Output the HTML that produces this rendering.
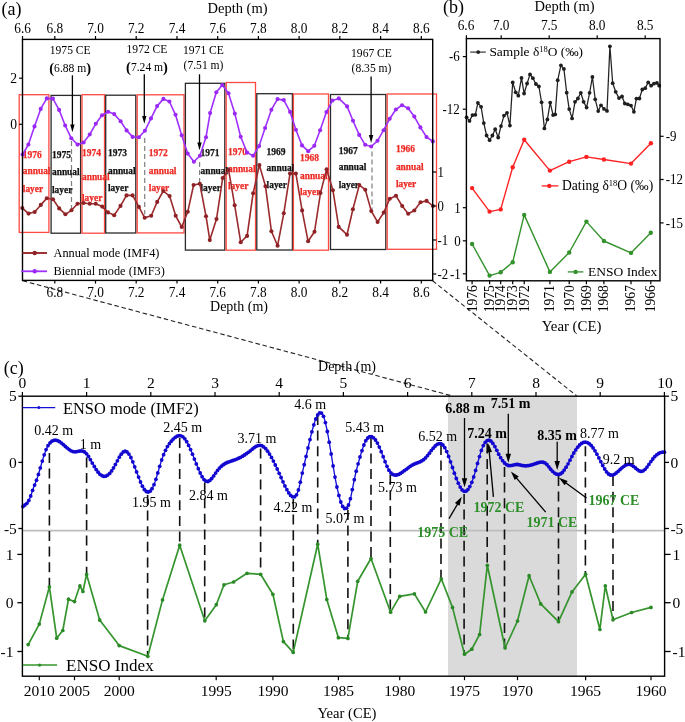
<!DOCTYPE html>
<html><head><meta charset="utf-8"><title>Figure</title>
<style>html,body{margin:0;padding:0;background:#fff}svg{display:block}</style></head>
<body>
<svg width="685" height="722" viewBox="0 0 685 722" font-family="Liberation Serif, Times New Roman, serif">
<rect width="685" height="722" fill="#fff"/>
<line x1="22.8" y1="280.8" x2="451.0" y2="395.6" stroke="#222" stroke-width="1.1" stroke-dasharray="4.5 2.8"/>
<line x1="432.6" y1="280.8" x2="576.6" y2="395.8" stroke="#222" stroke-width="1.1" stroke-dasharray="4.5 2.8"/>
<rect x="19.2" y="94.7" width="29.7" height="137.7" fill="none" stroke="#ff4a42" stroke-width="1.3"/>
<rect x="51.1" y="95.4" width="29.5" height="137.8" fill="none" stroke="#2a2a2a" stroke-width="1.3"/>
<rect x="82.0" y="94.7" width="22.5" height="138.5" fill="none" stroke="#ff4a42" stroke-width="1.3"/>
<rect x="105.7" y="95.2" width="30.1" height="137.8" fill="none" stroke="#2a2a2a" stroke-width="1.3"/>
<rect x="137.2" y="94.8" width="46.8" height="138.1" fill="none" stroke="#ff4a42" stroke-width="1.3"/>
<rect x="185.4" y="83.3" width="39.4" height="166.8" fill="none" stroke="#2a2a2a" stroke-width="1.3"/>
<rect x="226.2" y="82.5" width="29.3" height="167.7" fill="none" stroke="#ff4a42" stroke-width="1.3"/>
<rect x="256.8" y="93.7" width="35.6" height="156.3" fill="none" stroke="#2a2a2a" stroke-width="1.3"/>
<rect x="293.4" y="94.0" width="35.1" height="156.2" fill="none" stroke="#ff4a42" stroke-width="1.3"/>
<rect x="330.5" y="94.5" width="55.3" height="155.0" fill="none" stroke="#2a2a2a" stroke-width="1.3"/>
<rect x="387.2" y="94.0" width="49.3" height="155.3" fill="none" stroke="#ff4a42" stroke-width="1.3"/>
<line x1="71.5" y1="141.0" x2="71.5" y2="210.0" stroke="#808080" stroke-width="1.2" stroke-dasharray="5 3"/>
<line x1="144.7" y1="138.0" x2="144.7" y2="214.6" stroke="#808080" stroke-width="1.2" stroke-dasharray="5 3"/>
<line x1="199.6" y1="162.0" x2="199.6" y2="184.0" stroke="#808080" stroke-width="1.2" stroke-dasharray="5 3"/>
<line x1="372.0" y1="151.6" x2="372.0" y2="209.6" stroke="#808080" stroke-width="1.2" stroke-dasharray="5 3"/>
<text x="22.8" y="157.6" font-size="9.5" text-anchor="start" fill="#ee2a24" font-weight="bold" stroke="#ee2a24" stroke-width="0.25">1976</text>
<text x="22.8" y="174.4" font-size="9.4" text-anchor="start" fill="#ee2a24" font-weight="bold" stroke="#ee2a24" stroke-width="0.25">annual</text>
<text x="22.8" y="191.6" font-size="9.4" text-anchor="start" fill="#ee2a24" font-weight="bold" stroke="#ee2a24" stroke-width="0.25">layer</text>
<text x="52.0" y="157.6" font-size="9.5" text-anchor="start" fill="#111" font-weight="bold" stroke="#111" stroke-width="0.25">1975</text>
<text x="52.0" y="175.4" font-size="9.4" text-anchor="start" fill="#111" font-weight="bold" stroke="#111" stroke-width="0.25">annual</text>
<text x="52.0" y="192.6" font-size="9.4" text-anchor="start" fill="#111" font-weight="bold" stroke="#111" stroke-width="0.25">layer</text>
<text x="82.0" y="156.3" font-size="9.5" text-anchor="start" fill="#ee2a24" font-weight="bold" stroke="#ee2a24" stroke-width="0.25">1974</text>
<text x="82.0" y="179.8" font-size="9.4" text-anchor="start" fill="#ee2a24" font-weight="bold" stroke="#ee2a24" stroke-width="0.25">annual</text>
<text x="82.0" y="201.3" font-size="9.4" text-anchor="start" fill="#ee2a24" font-weight="bold" stroke="#ee2a24" stroke-width="0.25">layer</text>
<text x="108.0" y="156.3" font-size="9.5" text-anchor="start" fill="#111" font-weight="bold" stroke="#111" stroke-width="0.25">1973</text>
<text x="108.0" y="173.8" font-size="9.4" text-anchor="start" fill="#111" font-weight="bold" stroke="#111" stroke-width="0.25">annual</text>
<text x="108.0" y="191.1" font-size="9.4" text-anchor="start" fill="#111" font-weight="bold" stroke="#111" stroke-width="0.25">layer</text>
<text x="148.8" y="155.6" font-size="9.5" text-anchor="start" fill="#ee2a24" font-weight="bold" stroke="#ee2a24" stroke-width="0.25">1972</text>
<text x="148.8" y="173.8" font-size="9.4" text-anchor="start" fill="#ee2a24" font-weight="bold" stroke="#ee2a24" stroke-width="0.25">annual</text>
<text x="148.8" y="190.6" font-size="9.4" text-anchor="start" fill="#ee2a24" font-weight="bold" stroke="#ee2a24" stroke-width="0.25">layer</text>
<text x="200.5" y="156.1" font-size="9.5" text-anchor="start" fill="#111" font-weight="bold" stroke="#111" stroke-width="0.25">1971</text>
<text x="200.5" y="173.8" font-size="9.4" text-anchor="start" fill="#111" font-weight="bold" stroke="#111" stroke-width="0.25">annual</text>
<text x="200.5" y="190.6" font-size="9.4" text-anchor="start" fill="#111" font-weight="bold" stroke="#111" stroke-width="0.25">layer</text>
<text x="228.0" y="154.9" font-size="9.5" text-anchor="start" fill="#ee2a24" font-weight="bold" stroke="#ee2a24" stroke-width="0.25">1970</text>
<text x="228.0" y="172.3" font-size="9.4" text-anchor="start" fill="#ee2a24" font-weight="bold" stroke="#ee2a24" stroke-width="0.25">annual</text>
<text x="228.0" y="189.2" font-size="9.4" text-anchor="start" fill="#ee2a24" font-weight="bold" stroke="#ee2a24" stroke-width="0.25">layer</text>
<text x="266.6" y="154.5" font-size="9.5" text-anchor="start" fill="#111" font-weight="bold" stroke="#111" stroke-width="0.25">1969</text>
<text x="266.6" y="170.7" font-size="9.4" text-anchor="start" fill="#111" font-weight="bold" stroke="#111" stroke-width="0.25">annual</text>
<text x="266.6" y="188.1" font-size="9.4" text-anchor="start" fill="#111" font-weight="bold" stroke="#111" stroke-width="0.25">layer</text>
<text x="300.0" y="160.5" font-size="9.5" text-anchor="start" fill="#ee2a24" font-weight="bold" stroke="#ee2a24" stroke-width="0.25">1968</text>
<text x="300.0" y="178.6" font-size="9.4" text-anchor="start" fill="#ee2a24" font-weight="bold" stroke="#ee2a24" stroke-width="0.25">annual</text>
<text x="300.0" y="195.1" font-size="9.4" text-anchor="start" fill="#ee2a24" font-weight="bold" stroke="#ee2a24" stroke-width="0.25">layer</text>
<text x="338.7" y="153.8" font-size="9.5" text-anchor="start" fill="#111" font-weight="bold" stroke="#111" stroke-width="0.25">1967</text>
<text x="338.7" y="170.3" font-size="9.4" text-anchor="start" fill="#111" font-weight="bold" stroke="#111" stroke-width="0.25">annual</text>
<text x="338.7" y="187.7" font-size="9.4" text-anchor="start" fill="#111" font-weight="bold" stroke="#111" stroke-width="0.25">layer</text>
<text x="395.9" y="152.2" font-size="9.5" text-anchor="start" fill="#ee2a24" font-weight="bold" stroke="#ee2a24" stroke-width="0.25">1966</text>
<text x="395.9" y="169.5" font-size="9.4" text-anchor="start" fill="#ee2a24" font-weight="bold" stroke="#ee2a24" stroke-width="0.25">annual</text>
<text x="395.9" y="186.5" font-size="9.4" text-anchor="start" fill="#ee2a24" font-weight="bold" stroke="#ee2a24" stroke-width="0.25">layer</text>
<polyline fill="none" stroke="#9a2a2c" stroke-width="1.6" stroke-linejoin="round" points="22.3,208.1 28.6,213.6 34.7,212.0 40.8,204.9 46.8,198.3 53.0,199.3 59.2,208.4 65.4,214.3 71.5,210.3 77.5,203.8 83.6,203.0 89.7,203.7 95.7,203.7 102.2,206.6 108.0,212.4 114.2,215.3 120.5,205.9 126.5,195.4 132.6,195.4 138.9,206.9 144.7,217.8 151.2,215.7 157.2,201.9 163.3,191.0 169.6,196.1 175.7,215.8 181.7,227.0 187.8,211.7 193.6,185.0 199.8,183.7 206.0,216.2 209.8,240.1 216.5,219.1 222.7,178.0 228.6,169.8 234.7,205.3 240.7,242.2 247.1,235.9 253.1,193.3 259.4,165.1 265.5,186.3 271.4,231.2 277.6,245.7 283.8,213.3 290.0,173.6 295.9,173.6 302.1,210.4 308.1,241.3 314.5,231.8 320.5,193.0 326.6,169.2 332.9,190.2 338.7,226.9 347.0,234.7 352.9,209.2 359.3,185.1 365.3,189.7 371.3,211.1 377.6,222.0 383.7,212.6 389.8,198.7 396.0,195.8 402.2,206.0 408.2,213.7 414.3,210.5 420.5,202.3 426.6,200.9 432.9,206.0" />
<g fill="#8e2226"><circle cx="22.3" cy="208.1" r="2.05"/><circle cx="28.6" cy="213.6" r="2.05"/><circle cx="34.7" cy="212.0" r="2.05"/><circle cx="40.8" cy="204.9" r="2.05"/><circle cx="46.8" cy="198.3" r="2.05"/><circle cx="53.0" cy="199.3" r="2.05"/><circle cx="59.2" cy="208.4" r="2.05"/><circle cx="65.4" cy="214.3" r="2.05"/><circle cx="71.5" cy="210.3" r="2.05"/><circle cx="77.5" cy="203.8" r="2.05"/><circle cx="83.6" cy="203.0" r="2.05"/><circle cx="89.7" cy="203.7" r="2.05"/><circle cx="95.7" cy="203.7" r="2.05"/><circle cx="102.2" cy="206.6" r="2.05"/><circle cx="108.0" cy="212.4" r="2.05"/><circle cx="114.2" cy="215.3" r="2.05"/><circle cx="120.5" cy="205.9" r="2.05"/><circle cx="126.5" cy="195.4" r="2.05"/><circle cx="132.6" cy="195.4" r="2.05"/><circle cx="138.9" cy="206.9" r="2.05"/><circle cx="144.7" cy="217.8" r="2.05"/><circle cx="151.2" cy="215.7" r="2.05"/><circle cx="157.2" cy="201.9" r="2.05"/><circle cx="163.3" cy="191.0" r="2.05"/><circle cx="169.6" cy="196.1" r="2.05"/><circle cx="175.7" cy="215.8" r="2.05"/><circle cx="181.7" cy="227.0" r="2.05"/><circle cx="187.8" cy="211.7" r="2.05"/><circle cx="193.6" cy="185.0" r="2.05"/><circle cx="199.8" cy="183.7" r="2.05"/><circle cx="206.0" cy="216.2" r="2.05"/><circle cx="209.8" cy="240.1" r="2.05"/><circle cx="216.5" cy="219.1" r="2.05"/><circle cx="222.7" cy="178.0" r="2.05"/><circle cx="228.6" cy="169.8" r="2.05"/><circle cx="234.7" cy="205.3" r="2.05"/><circle cx="240.7" cy="242.2" r="2.05"/><circle cx="247.1" cy="235.9" r="2.05"/><circle cx="253.1" cy="193.3" r="2.05"/><circle cx="259.4" cy="165.1" r="2.05"/><circle cx="265.5" cy="186.3" r="2.05"/><circle cx="271.4" cy="231.2" r="2.05"/><circle cx="277.6" cy="245.7" r="2.05"/><circle cx="283.8" cy="213.3" r="2.05"/><circle cx="290.0" cy="173.6" r="2.05"/><circle cx="295.9" cy="173.6" r="2.05"/><circle cx="302.1" cy="210.4" r="2.05"/><circle cx="308.1" cy="241.3" r="2.05"/><circle cx="314.5" cy="231.8" r="2.05"/><circle cx="320.5" cy="193.0" r="2.05"/><circle cx="326.6" cy="169.2" r="2.05"/><circle cx="332.9" cy="190.2" r="2.05"/><circle cx="338.7" cy="226.9" r="2.05"/><circle cx="347.0" cy="234.7" r="2.05"/><circle cx="352.9" cy="209.2" r="2.05"/><circle cx="359.3" cy="185.1" r="2.05"/><circle cx="365.3" cy="189.7" r="2.05"/><circle cx="371.3" cy="211.1" r="2.05"/><circle cx="377.6" cy="222.0" r="2.05"/><circle cx="383.7" cy="212.6" r="2.05"/><circle cx="389.8" cy="198.7" r="2.05"/><circle cx="396.0" cy="195.8" r="2.05"/><circle cx="402.2" cy="206.0" r="2.05"/><circle cx="408.2" cy="213.7" r="2.05"/><circle cx="414.3" cy="210.5" r="2.05"/><circle cx="420.5" cy="202.3" r="2.05"/><circle cx="426.6" cy="200.9" r="2.05"/><circle cx="432.9" cy="206.0" r="2.05"/></g>
<polyline fill="none" stroke="#a030ff" stroke-width="1.6" stroke-linejoin="round" points="22.6,154.6 28.4,144.5 34.5,126.4 40.7,108.9 46.8,98.4 52.9,98.6 59.1,109.9 65.2,125.5 71.3,138.3 77.6,144.6 83.6,142.5 89.7,134.5 95.8,123.8 102.0,115.2 108.1,111.7 114.2,114.1 120.6,121.2 126.6,130.4 132.6,136.9 138.9,137.3 144.9,130.8 151.0,118.4 157.1,106.1 163.4,98.9 169.4,101.5 175.5,114.8 181.7,135.3 187.7,153.6 193.9,161.7 199.9,155.7 206.0,137.3 210.1,113.1 216.3,92.2 222.3,85.0 228.5,93.3 234.8,113.6 240.7,136.7 247.1,152.6 253.1,155.7 259.1,146.1 265.1,128.0 271.4,109.7 277.5,99.1 283.8,100.1 290.1,111.9 295.9,129.7 302.0,145.4 308.2,151.2 314.3,145.8 320.1,130.2 326.4,112.1 332.4,100.5 338.8,98.4 347.1,106.4 353.0,120.8 359.2,134.9 365.2,144.8 371.2,146.5 377.5,140.8 383.6,130.2 389.7,118.8 395.9,109.5 402.0,105.2 408.1,108.3 414.3,116.6 420.4,127.4 426.5,137.0 432.8,141.4" />
<g fill="#9a28f5"><circle cx="22.6" cy="154.6" r="2.05"/><circle cx="28.4" cy="144.5" r="2.05"/><circle cx="34.5" cy="126.4" r="2.05"/><circle cx="40.7" cy="108.9" r="2.05"/><circle cx="46.8" cy="98.4" r="2.05"/><circle cx="52.9" cy="98.6" r="2.05"/><circle cx="59.1" cy="109.9" r="2.05"/><circle cx="65.2" cy="125.5" r="2.05"/><circle cx="71.3" cy="138.3" r="2.05"/><circle cx="77.6" cy="144.6" r="2.05"/><circle cx="83.6" cy="142.5" r="2.05"/><circle cx="89.7" cy="134.5" r="2.05"/><circle cx="95.8" cy="123.8" r="2.05"/><circle cx="102.0" cy="115.2" r="2.05"/><circle cx="108.1" cy="111.7" r="2.05"/><circle cx="114.2" cy="114.1" r="2.05"/><circle cx="120.6" cy="121.2" r="2.05"/><circle cx="126.6" cy="130.4" r="2.05"/><circle cx="132.6" cy="136.9" r="2.05"/><circle cx="138.9" cy="137.3" r="2.05"/><circle cx="144.9" cy="130.8" r="2.05"/><circle cx="151.0" cy="118.4" r="2.05"/><circle cx="157.1" cy="106.1" r="2.05"/><circle cx="163.4" cy="98.9" r="2.05"/><circle cx="169.4" cy="101.5" r="2.05"/><circle cx="175.5" cy="114.8" r="2.05"/><circle cx="181.7" cy="135.3" r="2.05"/><circle cx="187.7" cy="153.6" r="2.05"/><circle cx="193.9" cy="161.7" r="2.05"/><circle cx="199.9" cy="155.7" r="2.05"/><circle cx="206.0" cy="137.3" r="2.05"/><circle cx="210.1" cy="113.1" r="2.05"/><circle cx="216.3" cy="92.2" r="2.05"/><circle cx="222.3" cy="85.0" r="2.05"/><circle cx="228.5" cy="93.3" r="2.05"/><circle cx="234.8" cy="113.6" r="2.05"/><circle cx="240.7" cy="136.7" r="2.05"/><circle cx="247.1" cy="152.6" r="2.05"/><circle cx="253.1" cy="155.7" r="2.05"/><circle cx="259.1" cy="146.1" r="2.05"/><circle cx="265.1" cy="128.0" r="2.05"/><circle cx="271.4" cy="109.7" r="2.05"/><circle cx="277.5" cy="99.1" r="2.05"/><circle cx="283.8" cy="100.1" r="2.05"/><circle cx="290.1" cy="111.9" r="2.05"/><circle cx="295.9" cy="129.7" r="2.05"/><circle cx="302.0" cy="145.4" r="2.05"/><circle cx="308.2" cy="151.2" r="2.05"/><circle cx="314.3" cy="145.8" r="2.05"/><circle cx="320.1" cy="130.2" r="2.05"/><circle cx="326.4" cy="112.1" r="2.05"/><circle cx="332.4" cy="100.5" r="2.05"/><circle cx="338.8" cy="98.4" r="2.05"/><circle cx="347.1" cy="106.4" r="2.05"/><circle cx="353.0" cy="120.8" r="2.05"/><circle cx="359.2" cy="134.9" r="2.05"/><circle cx="365.2" cy="144.8" r="2.05"/><circle cx="371.2" cy="146.5" r="2.05"/><circle cx="377.5" cy="140.8" r="2.05"/><circle cx="383.6" cy="130.2" r="2.05"/><circle cx="389.7" cy="118.8" r="2.05"/><circle cx="395.9" cy="109.5" r="2.05"/><circle cx="402.0" cy="105.2" r="2.05"/><circle cx="408.1" cy="108.3" r="2.05"/><circle cx="414.3" cy="116.6" r="2.05"/><circle cx="420.4" cy="127.4" r="2.05"/><circle cx="426.5" cy="137.0" r="2.05"/><circle cx="432.8" cy="141.4" r="2.05"/></g>
<rect x="22.5" y="39.4" width="410.2" height="241.0" fill="none" stroke="#000" stroke-width="1.4"/>
<line x1="22.5" y1="39.4" x2="22.5" y2="36.0" stroke="#000" stroke-width="1.2" />
<text transform="translate(22.6,32.9) scale(0.900,1)" font-size="14.8" text-anchor="middle" fill="#000" >6.6</text>
<line x1="54.8" y1="39.4" x2="54.8" y2="36.0" stroke="#000" stroke-width="1.2" />
<text transform="translate(54.8,32.9) scale(0.900,1)" font-size="14.8" text-anchor="middle" fill="#000" >6.8</text>
<line x1="54.8" y1="280.4" x2="54.8" y2="283.6" stroke="#000" stroke-width="1.2" />
<text transform="translate(54.8,297.2) scale(0.900,1)" font-size="14.8" text-anchor="middle" fill="#000" >6.8</text>
<line x1="95.5" y1="39.4" x2="95.5" y2="36.0" stroke="#000" stroke-width="1.2" />
<text transform="translate(95.5,32.9) scale(0.900,1)" font-size="14.8" text-anchor="middle" fill="#000" >7.0</text>
<line x1="95.5" y1="280.4" x2="95.5" y2="283.6" stroke="#000" stroke-width="1.2" />
<text transform="translate(95.5,297.2) scale(0.900,1)" font-size="14.8" text-anchor="middle" fill="#000" >7.0</text>
<line x1="136.2" y1="39.4" x2="136.2" y2="36.0" stroke="#000" stroke-width="1.2" />
<text transform="translate(136.2,32.9) scale(0.900,1)" font-size="14.8" text-anchor="middle" fill="#000" >7.2</text>
<line x1="136.2" y1="280.4" x2="136.2" y2="283.6" stroke="#000" stroke-width="1.2" />
<text transform="translate(136.2,297.2) scale(0.900,1)" font-size="14.8" text-anchor="middle" fill="#000" >7.2</text>
<line x1="177.0" y1="39.4" x2="177.0" y2="36.0" stroke="#000" stroke-width="1.2" />
<text transform="translate(177.0,32.9) scale(0.900,1)" font-size="14.8" text-anchor="middle" fill="#000" >7.4</text>
<line x1="177.0" y1="280.4" x2="177.0" y2="283.6" stroke="#000" stroke-width="1.2" />
<text transform="translate(177.0,297.2) scale(0.900,1)" font-size="14.8" text-anchor="middle" fill="#000" >7.4</text>
<line x1="217.7" y1="39.4" x2="217.7" y2="36.0" stroke="#000" stroke-width="1.2" />
<text transform="translate(217.7,32.9) scale(0.900,1)" font-size="14.8" text-anchor="middle" fill="#000" >7.6</text>
<line x1="217.7" y1="280.4" x2="217.7" y2="283.6" stroke="#000" stroke-width="1.2" />
<text transform="translate(217.7,297.2) scale(0.900,1)" font-size="14.8" text-anchor="middle" fill="#000" >7.6</text>
<line x1="258.4" y1="39.4" x2="258.4" y2="36.0" stroke="#000" stroke-width="1.2" />
<text transform="translate(258.4,32.9) scale(0.900,1)" font-size="14.8" text-anchor="middle" fill="#000" >7.8</text>
<line x1="258.4" y1="280.4" x2="258.4" y2="283.6" stroke="#000" stroke-width="1.2" />
<text transform="translate(258.4,297.2) scale(0.900,1)" font-size="14.8" text-anchor="middle" fill="#000" >7.8</text>
<line x1="299.1" y1="39.4" x2="299.1" y2="36.0" stroke="#000" stroke-width="1.2" />
<text transform="translate(299.1,32.9) scale(0.900,1)" font-size="14.8" text-anchor="middle" fill="#000" >8.0</text>
<line x1="299.1" y1="280.4" x2="299.1" y2="283.6" stroke="#000" stroke-width="1.2" />
<text transform="translate(299.1,297.2) scale(0.900,1)" font-size="14.8" text-anchor="middle" fill="#000" >8.0</text>
<line x1="339.8" y1="39.4" x2="339.8" y2="36.0" stroke="#000" stroke-width="1.2" />
<text transform="translate(339.8,32.9) scale(0.900,1)" font-size="14.8" text-anchor="middle" fill="#000" >8.2</text>
<line x1="339.8" y1="280.4" x2="339.8" y2="283.6" stroke="#000" stroke-width="1.2" />
<text transform="translate(339.8,297.2) scale(0.900,1)" font-size="14.8" text-anchor="middle" fill="#000" >8.2</text>
<line x1="380.6" y1="39.4" x2="380.6" y2="36.0" stroke="#000" stroke-width="1.2" />
<text transform="translate(380.6,32.9) scale(0.900,1)" font-size="14.8" text-anchor="middle" fill="#000" >8.4</text>
<line x1="380.6" y1="280.4" x2="380.6" y2="283.6" stroke="#000" stroke-width="1.2" />
<text transform="translate(380.6,297.2) scale(0.900,1)" font-size="14.8" text-anchor="middle" fill="#000" >8.4</text>
<line x1="421.3" y1="39.4" x2="421.3" y2="36.0" stroke="#000" stroke-width="1.2" />
<text transform="translate(421.3,32.9) scale(0.900,1)" font-size="14.8" text-anchor="middle" fill="#000" >8.6</text>
<line x1="421.3" y1="280.4" x2="421.3" y2="283.6" stroke="#000" stroke-width="1.2" />
<text transform="translate(421.3,297.2) scale(0.900,1)" font-size="14.8" text-anchor="middle" fill="#000" >8.6</text>
<line x1="22.5" y1="78.2" x2="19.1" y2="78.2" stroke="#000" stroke-width="1.2" />
<text transform="translate(17.0,83.1) scale(0.920,1)" font-size="14.8" text-anchor="end" fill="#000" >2</text>
<line x1="22.5" y1="124.3" x2="19.1" y2="124.3" stroke="#000" stroke-width="1.2" />
<text transform="translate(17.0,129.2) scale(0.920,1)" font-size="14.8" text-anchor="end" fill="#000" >0</text>
<line x1="432.7" y1="172.0" x2="436.3" y2="172.0" stroke="#000" stroke-width="1.2" />
<text transform="translate(437.4,176.7) scale(0.900,1)" font-size="14.2" text-anchor="start" fill="#000" >1</text>
<line x1="432.7" y1="206.0" x2="436.3" y2="206.0" stroke="#000" stroke-width="1.2" />
<text transform="translate(437.4,210.7) scale(0.900,1)" font-size="14.2" text-anchor="start" fill="#000" >0</text>
<line x1="432.7" y1="240.0" x2="436.3" y2="240.0" stroke="#000" stroke-width="1.2" />
<text transform="translate(437.4,244.7) scale(0.900,1)" font-size="14.2" text-anchor="start" fill="#000" >-1</text>
<line x1="432.7" y1="274.0" x2="436.3" y2="274.0" stroke="#000" stroke-width="1.2" />
<text transform="translate(437.4,278.7) scale(0.900,1)" font-size="14.2" text-anchor="start" fill="#000" >-2</text>
<text x="237.5" y="12.7" font-size="14.5" text-anchor="middle" fill="#000" >Depth (m)</text>
<text x="239.0" y="311.0" font-size="14" text-anchor="middle" fill="#000" >Depth (m)</text>
<text x="1.5" y="14.6" font-size="18" text-anchor="start" fill="#000" >(a)</text>
<text transform="translate(70.2,54.4) scale(0.950,1)" font-size="12.2" text-anchor="middle" fill="#000" >1975 CE</text>
<text x="70.2" y="72.0" font-size="11.6" text-anchor="middle" fill="#000" ><tspan font-weight="bold" font-size="14.5" dy="0.6">(</tspan><tspan dy="-0.6">6.88 m</tspan><tspan font-weight="bold" font-size="14.5" dy="0.6">)</tspan></text>
<line x1="72.4" y1="75.3" x2="72.4" y2="125.4" stroke="#000" stroke-width="1.3" />
<polygon fill="#000" points="72.4,132.2 70.2,124.4 74.6,124.4"/>
<text transform="translate(147.0,53.3) scale(0.950,1)" font-size="12.2" text-anchor="middle" fill="#000" >1972 CE</text>
<text x="147.0" y="71.0" font-size="11.6" text-anchor="middle" fill="#000" ><tspan font-weight="bold" font-size="14.5" dy="0.6">(</tspan><tspan dy="-0.6">7.24 m</tspan><tspan font-weight="bold" font-size="14.5" dy="0.6">)</tspan></text>
<line x1="144.3" y1="74.3" x2="144.3" y2="117.0" stroke="#000" stroke-width="1.3" />
<polygon fill="#000" points="144.3,123.8 142.1,116.0 146.5,116.0"/>
<text transform="translate(203.5,53.8) scale(0.950,1)" font-size="12.2" text-anchor="middle" fill="#000" >1971 CE</text>
<text x="203.5" y="69.3" font-size="11.6" text-anchor="middle" fill="#000" >(7.51 m)</text>
<line x1="199.5" y1="74.3" x2="199.5" y2="143.5" stroke="#000" stroke-width="1.3" />
<polygon fill="#000" points="199.5,150.3 197.3,142.5 201.7,142.5"/>
<text transform="translate(371.5,57.4) scale(0.950,1)" font-size="12.2" text-anchor="middle" fill="#000" >1967 CE</text>
<text x="371.5" y="72.4" font-size="11.6" text-anchor="middle" fill="#000" >(8.35 m)</text>
<line x1="371.1" y1="76.5" x2="371.1" y2="136.1" stroke="#000" stroke-width="1.3" />
<polygon fill="#000" points="371.1,142.9 368.9,135.1 373.3,135.1"/>
<line x1="22.5" y1="253.0" x2="47.0" y2="253.0" stroke="#9a2a2c" stroke-width="1.9" />
<g fill="#8e2226"><circle cx="34.7" cy="253.0" r="2.2"/></g>
<line x1="21.3" y1="271.3" x2="47.0" y2="271.3" stroke="#a030ff" stroke-width="1.8" />
<g fill="#9a28f5"><circle cx="34.7" cy="271.3" r="2.2"/></g>
<text x="53.5" y="256.9" font-size="12.3" text-anchor="start" fill="#000" >Annual mode (IMF4)</text>
<text x="53.5" y="274.9" font-size="12.3" text-anchor="start" fill="#000" >Biennial mode (IMF3)</text>
<polyline fill="none" stroke="#222" stroke-width="1.25" stroke-linejoin="round" points="466.6,117.3 469.5,120.9 472.5,115.1 475.3,114.8 477.9,102.8 481.1,106.8 483.8,123.1 486.6,135.5 489.6,140.2 492.4,135.5 495.2,129.2 498.2,137.5 501.0,126.1 504.0,115.6 507.0,112.8 509.9,125.6 512.7,82.4 515.7,92.3 518.3,95.7 521.5,77.9 524.1,93.5 527.1,83.5 530.0,74.4 532.9,78.2 535.9,84.0 538.9,86.5 541.6,102.3 544.4,128.4 547.4,119.4 550.2,102.6 553.1,115.1 555.2,114.4 557.7,80.2 560.9,65.3 563.9,68.9 566.7,92.7 569.2,109.1 572.1,118.4 575.0,101.8 577.9,98.5 580.8,92.8 583.6,101.8 586.6,107.6 589.6,92.8 592.4,77.0 595.2,99.3 598.2,111.1 601.0,105.3 604.0,108.9 607.0,110.9 609.9,46.3 612.7,83.2 615.7,91.8 619.0,98.1 622.0,96.5 624.8,103.5 627.8,104.3 631.0,105.6 633.9,111.8 636.4,98.6 639.4,98.5 642.3,89.5 645.2,88.2 648.2,82.4 651.1,85.7 653.9,83.7 656.9,82.9 659.2,85.7" />
<g fill="#1e1e1e"><circle cx="466.6" cy="117.3" r="1.9"/><circle cx="469.5" cy="120.9" r="1.9"/><circle cx="472.5" cy="115.1" r="1.9"/><circle cx="475.3" cy="114.8" r="1.9"/><circle cx="477.9" cy="102.8" r="1.9"/><circle cx="481.1" cy="106.8" r="1.9"/><circle cx="483.8" cy="123.1" r="1.9"/><circle cx="486.6" cy="135.5" r="1.9"/><circle cx="489.6" cy="140.2" r="1.9"/><circle cx="492.4" cy="135.5" r="1.9"/><circle cx="495.2" cy="129.2" r="1.9"/><circle cx="498.2" cy="137.5" r="1.9"/><circle cx="501.0" cy="126.1" r="1.9"/><circle cx="504.0" cy="115.6" r="1.9"/><circle cx="507.0" cy="112.8" r="1.9"/><circle cx="509.9" cy="125.6" r="1.9"/><circle cx="512.7" cy="82.4" r="1.9"/><circle cx="515.7" cy="92.3" r="1.9"/><circle cx="518.3" cy="95.7" r="1.9"/><circle cx="521.5" cy="77.9" r="1.9"/><circle cx="524.1" cy="93.5" r="1.9"/><circle cx="527.1" cy="83.5" r="1.9"/><circle cx="530.0" cy="74.4" r="1.9"/><circle cx="532.9" cy="78.2" r="1.9"/><circle cx="535.9" cy="84.0" r="1.9"/><circle cx="538.9" cy="86.5" r="1.9"/><circle cx="541.6" cy="102.3" r="1.9"/><circle cx="544.4" cy="128.4" r="1.9"/><circle cx="547.4" cy="119.4" r="1.9"/><circle cx="550.2" cy="102.6" r="1.9"/><circle cx="553.1" cy="115.1" r="1.9"/><circle cx="555.2" cy="114.4" r="1.9"/><circle cx="557.7" cy="80.2" r="1.9"/><circle cx="560.9" cy="65.3" r="1.9"/><circle cx="563.9" cy="68.9" r="1.9"/><circle cx="566.7" cy="92.7" r="1.9"/><circle cx="569.2" cy="109.1" r="1.9"/><circle cx="572.1" cy="118.4" r="1.9"/><circle cx="575.0" cy="101.8" r="1.9"/><circle cx="577.9" cy="98.5" r="1.9"/><circle cx="580.8" cy="92.8" r="1.9"/><circle cx="583.6" cy="101.8" r="1.9"/><circle cx="586.6" cy="107.6" r="1.9"/><circle cx="589.6" cy="92.8" r="1.9"/><circle cx="592.4" cy="77.0" r="1.9"/><circle cx="595.2" cy="99.3" r="1.9"/><circle cx="598.2" cy="111.1" r="1.9"/><circle cx="601.0" cy="105.3" r="1.9"/><circle cx="604.0" cy="108.9" r="1.9"/><circle cx="607.0" cy="110.9" r="1.9"/><circle cx="609.9" cy="46.3" r="1.9"/><circle cx="612.7" cy="83.2" r="1.9"/><circle cx="615.7" cy="91.8" r="1.9"/><circle cx="619.0" cy="98.1" r="1.9"/><circle cx="622.0" cy="96.5" r="1.9"/><circle cx="624.8" cy="103.5" r="1.9"/><circle cx="627.8" cy="104.3" r="1.9"/><circle cx="631.0" cy="105.6" r="1.9"/><circle cx="633.9" cy="111.8" r="1.9"/><circle cx="636.4" cy="98.6" r="1.9"/><circle cx="639.4" cy="98.5" r="1.9"/><circle cx="642.3" cy="89.5" r="1.9"/><circle cx="645.2" cy="88.2" r="1.9"/><circle cx="648.2" cy="82.4" r="1.9"/><circle cx="651.1" cy="85.7" r="1.9"/><circle cx="653.9" cy="83.7" r="1.9"/><circle cx="656.9" cy="82.9" r="1.9"/><circle cx="659.2" cy="85.7" r="1.9"/></g>
<polyline fill="none" stroke="#ff2222" stroke-width="1.4" stroke-linejoin="round" points="472.1,188.1 489.6,211.6 500.7,209.4 512.7,167.3 524.2,139.7 549.9,170.6 569.2,161.7 586.4,156.9 603.9,159.5 631.0,163.6 650.9,143.3" />
<g fill="#ff2222"><circle cx="472.1" cy="188.1" r="2.2"/><circle cx="489.6" cy="211.6" r="2.2"/><circle cx="500.7" cy="209.4" r="2.2"/><circle cx="512.7" cy="167.3" r="2.2"/><circle cx="524.2" cy="139.7" r="2.2"/><circle cx="549.9" cy="170.6" r="2.2"/><circle cx="569.2" cy="161.7" r="2.2"/><circle cx="586.4" cy="156.9" r="2.2"/><circle cx="603.9" cy="159.5" r="2.2"/><circle cx="631.0" cy="163.6" r="2.2"/><circle cx="650.9" cy="143.3" r="2.2"/></g>
<polyline fill="none" stroke="#33922c" stroke-width="1.4" stroke-linejoin="round" points="472.1,244.0 489.6,275.6 500.7,272.3 512.7,262.2 524.2,214.9 549.9,271.9 569.2,252.5 586.4,221.6 603.9,241.0 631.0,252.9 650.8,232.8" />
<g fill="#33922c"><circle cx="472.1" cy="244.0" r="2.2"/><circle cx="489.6" cy="275.6" r="2.2"/><circle cx="500.7" cy="272.3" r="2.2"/><circle cx="512.7" cy="262.2" r="2.2"/><circle cx="524.2" cy="214.9" r="2.2"/><circle cx="549.9" cy="271.9" r="2.2"/><circle cx="569.2" cy="252.5" r="2.2"/><circle cx="586.4" cy="221.6" r="2.2"/><circle cx="603.9" cy="241.0" r="2.2"/><circle cx="631.0" cy="252.9" r="2.2"/><circle cx="650.8" cy="232.8" r="2.2"/></g>
<rect x="466.4" y="38.6" width="193.6" height="242.2" fill="none" stroke="#000" stroke-width="1.4"/>
<line x1="466.4" y1="38.6" x2="466.4" y2="35.2" stroke="#000" stroke-width="1.2" />
<text transform="translate(466.0,30.1) scale(0.900,1)" font-size="14.8" text-anchor="middle" fill="#000" >6.6</text>
<line x1="501.2" y1="38.6" x2="501.2" y2="35.2" stroke="#000" stroke-width="1.2" />
<text transform="translate(501.2,30.1) scale(0.900,1)" font-size="14.8" text-anchor="middle" fill="#000" >7.0</text>
<line x1="549.2" y1="38.6" x2="549.2" y2="35.2" stroke="#000" stroke-width="1.2" />
<text transform="translate(549.2,30.1) scale(0.900,1)" font-size="14.8" text-anchor="middle" fill="#000" >7.5</text>
<line x1="597.2" y1="38.6" x2="597.2" y2="35.2" stroke="#000" stroke-width="1.2" />
<text transform="translate(597.2,30.1) scale(0.900,1)" font-size="14.8" text-anchor="middle" fill="#000" >8.0</text>
<line x1="645.2" y1="38.6" x2="645.2" y2="35.2" stroke="#000" stroke-width="1.2" />
<text transform="translate(645.2,30.1) scale(0.900,1)" font-size="14.8" text-anchor="middle" fill="#000" >8.5</text>
<line x1="466.4" y1="56.6" x2="462.8" y2="56.6" stroke="#000" stroke-width="1.2" />
<text transform="translate(459.8,61.4) scale(0.900,1)" font-size="14.4" text-anchor="end" fill="#000" >-6</text>
<line x1="466.4" y1="109.2" x2="462.8" y2="109.2" stroke="#000" stroke-width="1.2" />
<text transform="translate(459.8,114.0) scale(0.900,1)" font-size="14.4" text-anchor="end" fill="#000" >-12</text>
<line x1="466.4" y1="207.7" x2="462.8" y2="207.7" stroke="#000" stroke-width="1.2" />
<text transform="translate(460.8,212.5) scale(0.900,1)" font-size="14.4" text-anchor="end" fill="#000" >1</text>
<line x1="466.4" y1="240.8" x2="462.8" y2="240.8" stroke="#000" stroke-width="1.2" />
<text transform="translate(460.8,245.6) scale(0.900,1)" font-size="14.4" text-anchor="end" fill="#000" >0</text>
<line x1="466.4" y1="273.8" x2="462.8" y2="273.8" stroke="#000" stroke-width="1.2" />
<text transform="translate(460.8,278.6) scale(0.900,1)" font-size="14.4" text-anchor="end" fill="#000" >-1</text>
<line x1="660.0" y1="136.3" x2="663.6" y2="136.3" stroke="#000" stroke-width="1.2" />
<text transform="translate(665.7,141.1) scale(0.900,1)" font-size="14.4" text-anchor="start" fill="#000" >-9</text>
<line x1="660.0" y1="179.5" x2="663.6" y2="179.5" stroke="#000" stroke-width="1.2" />
<text transform="translate(665.7,184.3) scale(0.900,1)" font-size="14.4" text-anchor="start" fill="#000" >-12</text>
<line x1="660.0" y1="222.9" x2="663.6" y2="222.9" stroke="#000" stroke-width="1.2" />
<text transform="translate(665.7,227.7) scale(0.900,1)" font-size="14.4" text-anchor="start" fill="#000" >-15</text>
<line x1="472.1" y1="280.8" x2="472.1" y2="284.2" stroke="#000" stroke-width="1.2" />
<text transform="translate(476.5,298.7) rotate(-90)" font-size="13.6" text-anchor="middle">1976</text>
<line x1="489.6" y1="280.8" x2="489.6" y2="284.2" stroke="#000" stroke-width="1.2" />
<text transform="translate(494.0,298.7) rotate(-90)" font-size="13.6" text-anchor="middle">1975</text>
<line x1="500.7" y1="280.8" x2="500.7" y2="284.2" stroke="#000" stroke-width="1.2" />
<text transform="translate(505.1,298.7) rotate(-90)" font-size="13.6" text-anchor="middle">1974</text>
<line x1="512.7" y1="280.8" x2="512.7" y2="284.2" stroke="#000" stroke-width="1.2" />
<text transform="translate(517.1,298.7) rotate(-90)" font-size="13.6" text-anchor="middle">1973</text>
<line x1="524.2" y1="280.8" x2="524.2" y2="284.2" stroke="#000" stroke-width="1.2" />
<text transform="translate(528.6,298.7) rotate(-90)" font-size="13.6" text-anchor="middle">1972</text>
<line x1="549.9" y1="280.8" x2="549.9" y2="284.2" stroke="#000" stroke-width="1.2" />
<text transform="translate(554.3,298.7) rotate(-90)" font-size="13.6" text-anchor="middle">1971</text>
<line x1="569.2" y1="280.8" x2="569.2" y2="284.2" stroke="#000" stroke-width="1.2" />
<text transform="translate(573.6,298.7) rotate(-90)" font-size="13.6" text-anchor="middle">1970</text>
<line x1="586.4" y1="280.8" x2="586.4" y2="284.2" stroke="#000" stroke-width="1.2" />
<text transform="translate(590.8,298.7) rotate(-90)" font-size="13.6" text-anchor="middle">1969</text>
<line x1="603.9" y1="280.8" x2="603.9" y2="284.2" stroke="#000" stroke-width="1.2" />
<text transform="translate(608.3,298.7) rotate(-90)" font-size="13.6" text-anchor="middle">1968</text>
<line x1="631.0" y1="280.8" x2="631.0" y2="284.2" stroke="#000" stroke-width="1.2" />
<text transform="translate(635.4,298.7) rotate(-90)" font-size="13.6" text-anchor="middle">1967</text>
<line x1="650.8" y1="280.8" x2="650.8" y2="284.2" stroke="#000" stroke-width="1.2" />
<text transform="translate(655.2,298.7) rotate(-90)" font-size="13.6" text-anchor="middle">1966</text>
<text x="564.5" y="11.4" font-size="14.5" text-anchor="middle" fill="#000" >Depth (m)</text>
<text x="571.5" y="330.9" font-size="14.8" text-anchor="middle" fill="#000" >Year (CE)</text>
<text x="443.0" y="13.4" font-size="18" text-anchor="start" fill="#000" >(b)</text>
<line x1="470.2" y1="52.1" x2="485.8" y2="52.1" stroke="#222" stroke-width="1.1" />
<g fill="#1e1e1e"><circle cx="478.2" cy="52.1" r="1.9"/></g>
<text x="489.4" y="56.3" font-size="13.4" text-anchor="start" fill="#000" >Sample δ<tspan font-size="8.5" dy="-4.5">18</tspan><tspan dy="4.5">O (‰)</tspan></text>
<line x1="541.7" y1="185.9" x2="558.4" y2="185.9" stroke="#ff2222" stroke-width="1.3" />
<g fill="#ff2222"><circle cx="549.3" cy="185.9" r="2.2"/></g>
<text x="562.0" y="190.1" font-size="13.6" text-anchor="start" fill="#000" >Dating δ<tspan font-size="8.5" dy="-4.5">18</tspan><tspan dy="4.5">O (‰)</tspan></text>
<line x1="567.8" y1="271.9" x2="583.4" y2="271.9" stroke="#33922c" stroke-width="1.3" />
<g fill="#33922c"><circle cx="575.6" cy="271.9" r="2.2"/></g>
<text x="588.0" y="276.1" font-size="13.5" text-anchor="start" fill="#000" >ENSO Index</text>
<rect x="448" y="397" width="129" height="278.8" fill="#dadada"/>
<line x1="22.4" y1="530.6" x2="664.6" y2="530.6" stroke="#bdbdbd" stroke-width="1.6" />
<line x1="49.4" y1="453.0" x2="49.4" y2="586.8" stroke="#111" stroke-width="1.6" stroke-dasharray="10 5.6"/>
<line x1="86.6" y1="457.5" x2="86.6" y2="574.4" stroke="#111" stroke-width="1.6" stroke-dasharray="10 5.6"/>
<line x1="147.6" y1="495.0" x2="147.6" y2="656.3" stroke="#111" stroke-width="1.6" stroke-dasharray="10 5.6"/>
<line x1="179.7" y1="437.9" x2="179.7" y2="545.2" stroke="#111" stroke-width="1.6" stroke-dasharray="10 5.6"/>
<line x1="204.7" y1="482.6" x2="204.7" y2="620.7" stroke="#111" stroke-width="1.6" stroke-dasharray="10 5.6"/>
<line x1="260.6" y1="448.4" x2="260.6" y2="574.3" stroke="#111" stroke-width="1.6" stroke-dasharray="10 5.6"/>
<line x1="293.3" y1="499.0" x2="293.3" y2="652.4" stroke="#111" stroke-width="1.6" stroke-dasharray="10 5.6"/>
<line x1="317.7" y1="415.0" x2="317.7" y2="544.2" stroke="#111" stroke-width="1.6" stroke-dasharray="10 5.6"/>
<line x1="347.9" y1="510.0" x2="347.9" y2="638.4" stroke="#111" stroke-width="1.6" stroke-dasharray="10 5.6"/>
<line x1="371.0" y1="437.9" x2="371.0" y2="558.5" stroke="#111" stroke-width="1.6" stroke-dasharray="10 5.6"/>
<line x1="390.3" y1="474.7" x2="390.3" y2="612.2" stroke="#111" stroke-width="1.6" stroke-dasharray="10 5.6"/>
<line x1="441.0" y1="444.9" x2="441.0" y2="578.8" stroke="#111" stroke-width="1.6" stroke-dasharray="10 5.6"/>
<line x1="464.1" y1="494.0" x2="464.1" y2="654.2" stroke="#111" stroke-width="1.6" stroke-dasharray="10 5.6"/>
<line x1="487.2" y1="443.4" x2="487.2" y2="565.3" stroke="#111" stroke-width="1.6" stroke-dasharray="10 5.6"/>
<line x1="504.5" y1="467.0" x2="504.5" y2="648.0" stroke="#111" stroke-width="1.6" stroke-dasharray="10 5.6"/>
<line x1="558.5" y1="476.0" x2="558.5" y2="621.7" stroke="#111" stroke-width="1.6" stroke-dasharray="10 5.6"/>
<line x1="585.4" y1="446.2" x2="585.4" y2="574.2" stroke="#111" stroke-width="1.6" stroke-dasharray="10 5.6"/>
<line x1="613.0" y1="476.1" x2="613.0" y2="619.8" stroke="#111" stroke-width="1.6" stroke-dasharray="10 5.6"/>
<polyline fill="none" stroke="#1410d8" stroke-width="1.35" stroke-linejoin="round" points="23.0,506.5 23.8,505.9 24.6,505.3 25.4,504.7 26.2,503.9 27.0,503.1 27.8,502.1 28.6,500.8 29.4,499.2 30.2,497.4 31.0,495.2 31.8,492.8 32.6,490.4 33.4,488.1 34.2,486.0 35.0,484.0 35.8,482.0 36.6,479.9 37.4,477.6 38.2,475.1 39.0,472.5 39.8,469.7 40.6,466.9 41.4,464.1 42.2,461.3 43.0,458.6 43.8,456.0 44.6,453.6 45.4,451.4 46.2,449.4 47.0,447.7 47.8,446.1 48.6,444.8 49.4,443.6 50.2,442.7 51.0,441.9 51.8,441.2 52.6,440.8 53.4,440.4 54.2,440.2 55.0,440.2 55.8,440.2 56.6,440.4 57.4,440.6 58.2,441.0 59.0,441.4 59.8,441.9 60.6,442.4 61.4,443.0 62.2,443.7 63.0,444.3 63.8,445.0 64.6,445.8 65.4,446.5 66.2,447.2 67.0,447.9 67.8,448.5 68.6,449.2 69.4,449.8 70.2,450.3 71.0,450.8 71.8,451.2 72.6,451.5 73.4,451.7 74.2,451.8 75.0,451.8 75.8,451.7 76.6,451.6 77.4,451.5 78.2,451.3 79.0,451.1 79.8,451.0 80.6,450.9 81.4,450.9 82.2,451.0 83.0,451.2 83.8,451.5 84.6,452.0 85.4,452.6 86.2,453.4 87.0,454.4 87.8,455.5 88.6,456.7 89.4,458.0 90.2,459.3 91.0,460.7 91.8,462.2 92.6,463.6 93.4,465.0 94.2,466.4 95.0,467.7 95.8,469.0 96.6,470.2 97.4,471.3 98.2,472.3 99.0,473.2 99.8,474.1 100.6,474.8 101.4,475.4 102.2,475.9 103.0,476.2 103.8,476.4 104.6,476.4 105.4,476.3 106.2,476.0 107.0,475.6 107.8,475.1 108.6,474.4 109.4,473.6 110.2,472.7 111.0,471.7 111.8,470.6 112.6,469.4 113.4,468.2 114.2,466.8 115.0,465.3 115.8,463.8 116.6,462.3 117.4,460.8 118.2,459.2 119.0,457.8 119.8,456.4 120.6,455.1 121.4,453.9 122.2,452.9 123.0,452.1 123.8,451.5 124.6,451.2 125.4,451.1 126.2,451.3 127.0,451.8 127.8,452.6 128.6,453.6 129.4,454.8 130.2,456.2 131.0,457.8 131.8,459.5 132.6,461.4 133.4,463.4 134.2,465.4 135.0,467.5 135.8,469.7 136.6,471.9 137.4,474.0 138.2,476.2 139.0,478.3 139.8,480.3 140.6,482.2 141.4,484.1 142.2,485.8 143.0,487.3 143.8,488.7 144.6,489.8 145.4,490.8 146.2,491.5 147.0,491.9 147.8,492.1 148.6,492.0 149.4,491.7 150.2,491.1 151.0,490.2 151.8,489.1 152.6,487.7 153.4,486.0 154.2,484.1 155.0,481.9 155.8,479.5 156.6,477.0 157.4,474.3 158.2,471.6 159.0,468.8 159.8,466.1 160.6,463.4 161.4,460.9 162.2,458.5 163.0,456.3 163.8,454.2 164.6,452.3 165.4,450.5 166.2,448.9 167.0,447.4 167.8,446.1 168.6,444.8 169.4,443.6 170.2,442.5 171.0,441.5 171.8,440.6 172.6,439.8 173.4,438.9 174.2,438.2 175.0,437.5 175.8,437.0 176.6,436.5 177.4,436.1 178.2,435.8 179.0,435.6 179.8,435.6 180.6,435.7 181.4,436.0 182.2,436.4 183.0,436.9 183.8,437.6 184.6,438.6 185.4,439.6 186.2,440.8 187.0,442.2 187.8,443.7 188.6,445.3 189.4,447.0 190.2,448.8 191.0,450.6 191.8,452.5 192.6,454.5 193.4,456.5 194.2,458.5 195.0,460.5 195.8,462.6 196.6,464.6 197.4,466.6 198.2,468.5 199.0,470.4 199.8,472.2 200.6,473.9 201.4,475.4 202.2,476.9 203.0,478.2 203.8,479.3 204.6,480.2 205.4,480.9 206.2,481.3 207.0,481.5 207.8,481.5 208.6,481.2 209.4,480.7 210.2,480.1 211.0,479.3 211.8,478.4 212.6,477.4 213.4,476.3 214.2,475.1 215.0,474.0 215.8,472.8 216.6,471.6 217.4,470.5 218.2,469.5 219.0,468.6 219.8,467.7 220.6,466.9 221.4,466.2 222.2,465.5 223.0,464.9 223.8,464.3 224.6,463.8 225.4,463.4 226.2,463.0 227.0,462.6 227.8,462.3 228.6,461.9 229.4,461.6 230.2,461.4 231.0,461.1 231.8,460.8 232.6,460.6 233.4,460.3 234.2,460.0 235.0,459.8 235.8,459.5 236.6,459.1 237.4,458.8 238.2,458.4 239.0,458.1 239.8,457.7 240.6,457.3 241.4,456.8 242.2,456.4 243.0,455.9 243.8,455.4 244.6,454.9 245.4,454.4 246.2,453.9 247.0,453.3 247.8,452.7 248.6,452.1 249.4,451.5 250.2,450.9 251.0,450.2 251.8,449.5 252.6,448.9 253.4,448.3 254.2,447.7 255.0,447.1 255.8,446.6 256.6,446.1 257.4,445.8 258.2,445.5 259.0,445.3 259.8,445.3 260.6,445.3 261.4,445.5 262.2,445.9 263.0,446.3 263.8,446.9 264.6,447.6 265.4,448.4 266.2,449.4 267.0,450.4 267.8,451.5 268.6,452.6 269.4,453.9 270.2,455.2 271.0,456.6 271.8,458.1 272.6,459.5 273.4,461.1 274.2,462.7 275.0,464.3 275.8,466.0 276.6,467.7 277.4,469.4 278.2,471.1 279.0,472.9 279.8,474.7 280.6,476.5 281.4,478.3 282.2,480.0 283.0,481.8 283.8,483.6 284.6,485.2 285.4,486.9 286.2,488.5 287.0,490.0 287.8,491.3 288.6,492.6 289.4,493.8 290.2,494.8 291.0,495.6 291.8,496.3 292.6,496.8 293.4,497.0 294.2,497.0 295.0,496.6 295.8,495.8 296.6,494.6 297.4,492.9 298.2,490.7 299.0,488.0 299.8,484.7 300.6,481.0 301.4,477.2 302.2,473.4 303.0,469.8 303.8,466.4 304.6,463.0 305.4,459.5 306.2,456.0 307.0,452.5 307.8,449.0 308.6,445.5 309.4,442.0 310.2,438.6 311.0,435.3 311.8,432.1 312.6,429.1 313.4,426.2 314.2,423.5 315.0,421.1 315.8,418.9 316.6,417.0 317.4,415.3 318.2,414.1 319.0,413.2 319.8,412.7 320.6,412.6 321.4,413.0 322.2,413.9 323.0,415.2 323.8,417.2 324.6,419.6 325.4,422.6 326.2,426.1 327.0,429.9 327.8,434.1 328.6,438.5 329.4,443.2 330.2,448.0 331.0,453.0 331.8,457.9 332.6,462.9 333.4,467.8 334.2,472.5 335.0,477.0 335.8,481.3 336.6,485.4 337.4,489.2 338.2,492.7 339.0,495.9 339.8,498.8 340.6,501.4 341.4,503.6 342.2,505.5 343.0,506.9 343.8,508.0 344.6,508.6 345.4,508.8 346.2,508.5 347.0,507.7 347.8,506.5 348.6,504.7 349.4,502.5 350.2,499.6 351.0,496.2 351.8,492.4 352.6,488.3 353.4,484.2 354.2,480.1 355.0,476.3 355.8,472.8 356.6,469.5 357.4,466.5 358.2,463.5 359.0,460.6 359.8,457.8 360.6,455.1 361.4,452.5 362.2,449.9 363.0,447.5 363.8,445.2 364.6,443.2 365.4,441.5 366.2,440.1 367.0,438.9 367.8,437.9 368.6,437.3 369.4,436.8 370.2,436.6 371.0,436.5 371.8,436.7 372.6,437.1 373.4,437.7 374.2,438.5 375.0,439.4 375.8,440.5 376.6,441.8 377.4,443.2 378.2,444.7 379.0,446.4 379.8,448.2 380.6,450.1 381.4,452.1 382.2,454.2 383.0,456.3 383.8,458.4 384.6,460.4 385.4,462.5 386.2,464.4 387.0,466.3 387.8,468.0 388.6,469.6 389.4,470.9 390.2,472.1 391.0,473.0 391.8,473.8 392.6,474.3 393.4,474.7 394.2,475.0 395.0,475.1 395.8,475.1 396.6,475.0 397.4,474.8 398.2,474.5 399.0,474.2 399.8,473.8 400.6,473.3 401.4,472.8 402.2,472.3 403.0,471.7 403.8,471.1 404.6,470.5 405.4,469.9 406.2,469.3 407.0,468.7 407.8,468.1 408.6,467.5 409.4,466.9 410.2,466.4 411.0,465.9 411.8,465.4 412.6,464.9 413.4,464.5 414.2,464.1 415.0,463.8 415.8,463.5 416.6,463.1 417.4,462.8 418.2,462.5 419.0,462.2 419.8,461.9 420.6,461.5 421.4,461.1 422.2,460.6 423.0,460.1 423.8,459.5 424.6,458.8 425.4,458.1 426.2,457.2 427.0,456.3 427.8,455.3 428.6,454.3 429.4,453.2 430.2,452.1 431.0,451.1 431.8,450.0 432.6,449.0 433.4,448.0 434.2,447.0 435.0,446.2 435.8,445.4 436.6,444.8 437.4,444.2 438.2,443.8 439.0,443.6 439.8,443.5 440.6,443.6 441.4,443.9 442.2,444.4 443.0,445.2 443.8,446.1 444.6,447.4 445.4,448.8 446.2,450.4 447.0,452.2 447.8,454.2 448.6,456.3 449.4,458.5 450.2,460.8 451.0,463.1 451.8,465.5 452.6,467.8 453.4,470.2 454.2,472.5 455.0,474.8 455.8,477.0 456.6,479.1 457.4,481.1 458.2,483.0 459.0,484.8 459.8,486.3 460.6,487.7 461.4,488.9 462.2,489.9 463.0,490.7 463.8,491.2 464.6,491.5 465.4,491.4 466.2,491.1 467.0,490.6 467.8,489.8 468.6,488.7 469.4,487.4 470.2,485.9 471.0,484.2 471.8,482.2 472.6,480.1 473.4,477.7 474.2,475.2 475.0,472.6 475.8,469.7 476.6,466.9 477.4,463.9 478.2,461.0 479.0,458.2 479.8,455.4 480.6,452.8 481.4,450.4 482.2,448.2 483.0,446.3 483.8,444.7 484.6,443.3 485.4,442.2 486.2,441.3 487.0,440.7 487.8,440.3 488.6,440.2 489.4,440.3 490.2,440.6 491.0,441.2 491.8,442.0 492.6,442.9 493.4,444.1 494.2,445.4 495.0,446.8 495.8,448.4 496.6,449.9 497.4,451.5 498.2,453.1 499.0,454.7 499.8,456.2 500.6,457.6 501.4,458.9 502.2,460.1 503.0,461.2 503.8,462.2 504.6,463.1 505.4,463.9 506.2,464.5 507.0,465.0 507.8,465.3 508.6,465.5 509.4,465.6 510.2,465.6 511.0,465.5 511.8,465.4 512.6,465.2 513.4,465.0 514.2,464.8 515.0,464.7 515.8,464.5 516.6,464.4 517.4,464.4 518.2,464.5 519.0,464.7 519.8,464.8 520.6,465.0 521.4,465.3 522.2,465.4 523.0,465.6 523.8,465.7 524.6,465.7 525.4,465.8 526.2,465.8 527.0,465.7 527.8,465.6 528.6,465.5 529.4,465.4 530.2,465.2 531.0,465.0 531.8,464.8 532.6,464.6 533.4,464.3 534.2,464.1 535.0,463.8 535.8,463.5 536.6,463.3 537.4,463.0 538.2,462.7 539.0,462.5 539.8,462.3 540.6,462.1 541.4,462.1 542.2,462.1 543.0,462.2 543.8,462.4 544.6,462.7 545.4,463.2 546.2,463.8 547.0,464.6 547.8,465.5 548.6,466.5 549.4,467.5 550.2,468.5 551.0,469.5 551.8,470.4 552.6,471.3 553.4,472.1 554.2,472.8 555.0,473.4 555.8,473.9 556.6,474.2 557.4,474.5 558.2,474.5 559.0,474.5 559.8,474.2 560.6,473.8 561.4,473.2 562.2,472.5 563.0,471.7 563.8,470.7 564.6,469.6 565.4,468.4 566.2,467.1 567.0,465.7 567.8,464.3 568.6,462.8 569.4,461.3 570.2,459.8 571.0,458.2 571.8,456.7 572.6,455.2 573.4,453.8 574.2,452.4 575.0,451.1 575.8,449.9 576.6,448.7 577.4,447.6 578.2,446.6 579.0,445.7 579.8,444.9 580.6,444.1 581.4,443.5 582.2,443.0 583.0,442.6 583.8,442.3 584.6,442.2 585.4,442.1 586.2,442.2 587.0,442.5 587.8,442.8 588.6,443.3 589.4,443.9 590.2,444.6 591.0,445.4 591.8,446.3 592.6,447.3 593.4,448.4 594.2,449.5 595.0,450.8 595.8,452.1 596.6,453.5 597.4,455.0 598.2,456.5 599.0,458.1 599.8,459.7 600.6,461.3 601.4,462.9 602.2,464.5 603.0,466.1 603.8,467.5 604.6,468.9 605.4,470.2 606.2,471.4 607.0,472.4 607.8,473.3 608.6,474.1 609.4,474.6 610.2,475.0 611.0,475.1 611.8,475.1 612.6,475.0 613.4,474.8 614.2,474.4 615.0,473.9 615.8,473.3 616.6,472.7 617.4,472.0 618.2,471.3 619.0,470.5 619.8,469.8 620.6,469.0 621.4,468.3 622.2,467.6 623.0,466.9 623.8,466.3 624.6,465.8 625.4,465.3 626.2,464.9 627.0,464.6 627.8,464.4 628.6,464.3 629.4,464.3 630.2,464.4 631.0,464.7 631.8,465.1 632.6,465.6 633.4,466.2 634.2,466.9 635.0,467.6 635.8,468.3 636.6,469.0 637.4,469.6 638.2,470.2 639.0,470.7 639.8,471.1 640.6,471.3 641.4,471.3 642.2,471.2 643.0,470.9 643.8,470.4 644.6,469.7 645.4,469.0 646.2,468.1 647.0,467.1 647.8,466.0 648.6,464.9 649.4,463.8 650.2,462.6 651.0,461.5 651.8,460.3 652.6,459.2 653.4,458.2 654.2,457.2 655.0,456.4 655.8,455.6 656.6,454.9 657.4,454.3 658.2,453.7 659.0,453.2 659.8,452.9 660.6,452.5 661.4,452.3 662.2,452.2 663.0,452.1 663.8,452.1" />
<g fill="#1208d0"><circle cx="23.0" cy="506.5" r="1.9"/><circle cx="24.9" cy="505.0" r="1.9"/><circle cx="26.9" cy="503.3" r="1.9"/><circle cx="28.8" cy="500.5" r="1.9"/><circle cx="30.7" cy="496.0" r="1.9"/><circle cx="32.6" cy="490.3" r="1.9"/><circle cx="34.6" cy="485.1" r="1.9"/><circle cx="36.5" cy="480.2" r="1.9"/><circle cx="38.4" cy="474.4" r="1.9"/><circle cx="40.3" cy="467.9" r="1.9"/><circle cx="42.3" cy="461.1" r="1.9"/><circle cx="44.2" cy="454.8" r="1.9"/><circle cx="46.1" cy="449.6" r="1.9"/><circle cx="48.0" cy="445.7" r="1.9"/><circle cx="50.0" cy="442.9" r="1.9"/><circle cx="51.9" cy="441.2" r="1.9"/><circle cx="53.8" cy="440.3" r="1.9"/><circle cx="55.7" cy="440.2" r="1.9"/><circle cx="57.7" cy="440.7" r="1.9"/><circle cx="59.6" cy="441.7" r="1.9"/><circle cx="61.5" cy="443.1" r="1.9"/><circle cx="63.4" cy="444.7" r="1.9"/><circle cx="65.4" cy="446.5" r="1.9"/><circle cx="67.3" cy="448.1" r="1.9"/><circle cx="69.2" cy="449.6" r="1.9"/><circle cx="71.1" cy="450.8" r="1.9"/><circle cx="73.1" cy="451.6" r="1.9"/><circle cx="75.0" cy="451.8" r="1.9"/><circle cx="76.9" cy="451.6" r="1.9"/><circle cx="78.9" cy="451.2" r="1.9"/><circle cx="80.8" cy="450.9" r="1.9"/><circle cx="82.7" cy="451.1" r="1.9"/><circle cx="84.6" cy="452.0" r="1.9"/><circle cx="86.6" cy="453.8" r="1.9"/><circle cx="88.5" cy="456.5" r="1.9"/><circle cx="90.4" cy="459.7" r="1.9"/><circle cx="92.3" cy="463.1" r="1.9"/><circle cx="94.3" cy="466.5" r="1.9"/><circle cx="96.2" cy="469.6" r="1.9"/><circle cx="98.1" cy="472.2" r="1.9"/><circle cx="100.0" cy="474.3" r="1.9"/><circle cx="102.0" cy="475.7" r="1.9"/><circle cx="103.9" cy="476.4" r="1.9"/><circle cx="105.8" cy="476.2" r="1.9"/><circle cx="107.7" cy="475.1" r="1.9"/><circle cx="109.7" cy="473.4" r="1.9"/><circle cx="111.6" cy="470.9" r="1.9"/><circle cx="113.5" cy="467.9" r="1.9"/><circle cx="115.4" cy="464.5" r="1.9"/><circle cx="117.4" cy="460.8" r="1.9"/><circle cx="119.3" cy="457.2" r="1.9"/><circle cx="121.2" cy="454.2" r="1.9"/><circle cx="123.2" cy="452.0" r="1.9"/><circle cx="125.1" cy="451.1" r="1.9"/><circle cx="127.0" cy="451.9" r="1.9"/><circle cx="128.9" cy="454.1" r="1.9"/><circle cx="130.9" cy="457.5" r="1.9"/><circle cx="132.8" cy="461.8" r="1.9"/><circle cx="134.7" cy="466.8" r="1.9"/><circle cx="136.6" cy="471.9" r="1.9"/><circle cx="138.6" cy="477.1" r="1.9"/><circle cx="140.5" cy="482.0" r="1.9"/><circle cx="142.4" cy="486.2" r="1.9"/><circle cx="144.3" cy="489.5" r="1.9"/><circle cx="146.3" cy="491.5" r="1.9"/><circle cx="148.2" cy="492.1" r="1.9"/><circle cx="150.1" cy="491.2" r="1.9"/><circle cx="152.0" cy="488.7" r="1.9"/><circle cx="154.0" cy="484.7" r="1.9"/><circle cx="155.9" cy="479.3" r="1.9"/><circle cx="157.8" cy="472.9" r="1.9"/><circle cx="159.7" cy="466.3" r="1.9"/><circle cx="161.7" cy="460.0" r="1.9"/><circle cx="163.6" cy="454.7" r="1.9"/><circle cx="165.5" cy="450.3" r="1.9"/><circle cx="167.4" cy="446.6" r="1.9"/><circle cx="169.4" cy="443.7" r="1.9"/><circle cx="171.3" cy="441.2" r="1.9"/><circle cx="173.2" cy="439.1" r="1.9"/><circle cx="175.2" cy="437.4" r="1.9"/><circle cx="177.1" cy="436.2" r="1.9"/><circle cx="179.0" cy="435.6" r="1.9"/><circle cx="180.9" cy="435.8" r="1.9"/><circle cx="182.9" cy="436.8" r="1.9"/><circle cx="184.8" cy="438.8" r="1.9"/><circle cx="186.7" cy="441.7" r="1.9"/><circle cx="188.6" cy="445.4" r="1.9"/><circle cx="190.6" cy="449.6" r="1.9"/><circle cx="192.5" cy="454.2" r="1.9"/><circle cx="194.4" cy="459.1" r="1.9"/><circle cx="196.3" cy="463.9" r="1.9"/><circle cx="198.3" cy="468.7" r="1.9"/><circle cx="200.2" cy="473.0" r="1.9"/><circle cx="202.1" cy="476.7" r="1.9"/><circle cx="204.0" cy="479.6" r="1.9"/><circle cx="206.0" cy="481.2" r="1.9"/><circle cx="207.9" cy="481.5" r="1.9"/><circle cx="209.8" cy="480.4" r="1.9"/><circle cx="211.7" cy="478.5" r="1.9"/><circle cx="213.7" cy="475.9" r="1.9"/><circle cx="215.6" cy="473.1" r="1.9"/><circle cx="217.5" cy="470.4" r="1.9"/><circle cx="219.5" cy="468.1" r="1.9"/><circle cx="221.4" cy="466.2" r="1.9"/><circle cx="223.3" cy="464.7" r="1.9"/><circle cx="225.2" cy="463.5" r="1.9"/><circle cx="227.2" cy="462.5" r="1.9"/><circle cx="229.1" cy="461.8" r="1.9"/><circle cx="231.0" cy="461.1" r="1.9"/><circle cx="232.9" cy="460.5" r="1.9"/><circle cx="234.9" cy="459.8" r="1.9"/><circle cx="236.8" cy="459.1" r="1.9"/><circle cx="238.7" cy="458.2" r="1.9"/><circle cx="240.6" cy="457.3" r="1.9"/><circle cx="242.6" cy="456.2" r="1.9"/><circle cx="244.5" cy="455.0" r="1.9"/><circle cx="246.4" cy="453.7" r="1.9"/><circle cx="248.3" cy="452.3" r="1.9"/><circle cx="250.3" cy="450.8" r="1.9"/><circle cx="252.2" cy="449.2" r="1.9"/><circle cx="254.1" cy="447.7" r="1.9"/><circle cx="256.0" cy="446.4" r="1.9"/><circle cx="258.0" cy="445.6" r="1.9"/><circle cx="259.9" cy="445.3" r="1.9"/><circle cx="261.8" cy="445.7" r="1.9"/><circle cx="263.7" cy="446.9" r="1.9"/><circle cx="265.7" cy="448.7" r="1.9"/><circle cx="267.6" cy="451.2" r="1.9"/><circle cx="269.5" cy="454.1" r="1.9"/><circle cx="271.5" cy="457.4" r="1.9"/><circle cx="273.4" cy="461.1" r="1.9"/><circle cx="275.3" cy="465.0" r="1.9"/><circle cx="277.2" cy="469.0" r="1.9"/><circle cx="279.2" cy="473.3" r="1.9"/><circle cx="281.1" cy="477.5" r="1.9"/><circle cx="283.0" cy="481.8" r="1.9"/><circle cx="284.9" cy="485.9" r="1.9"/><circle cx="286.9" cy="489.7" r="1.9"/><circle cx="288.8" cy="492.9" r="1.9"/><circle cx="290.7" cy="495.4" r="1.9"/><circle cx="292.6" cy="496.8" r="1.9"/><circle cx="294.6" cy="496.8" r="1.9"/><circle cx="296.5" cy="494.8" r="1.9"/><circle cx="298.4" cy="490.0" r="1.9"/><circle cx="300.3" cy="482.2" r="1.9"/><circle cx="302.3" cy="473.1" r="1.9"/><circle cx="304.2" cy="464.7" r="1.9"/><circle cx="306.1" cy="456.4" r="1.9"/><circle cx="308.0" cy="447.9" r="1.9"/><circle cx="310.0" cy="439.6" r="1.9"/><circle cx="311.9" cy="431.8" r="1.9"/><circle cx="313.8" cy="424.8" r="1.9"/><circle cx="315.8" cy="419.0" r="1.9"/><circle cx="317.7" cy="414.9" r="1.9"/><circle cx="319.6" cy="412.8" r="1.9"/><circle cx="321.5" cy="413.1" r="1.9"/><circle cx="323.5" cy="416.3" r="1.9"/><circle cx="325.4" cy="422.6" r="1.9"/><circle cx="327.3" cy="431.5" r="1.9"/><circle cx="329.2" cy="442.2" r="1.9"/><circle cx="331.2" cy="454.0" r="1.9"/><circle cx="333.1" cy="465.9" r="1.9"/><circle cx="335.0" cy="477.1" r="1.9"/><circle cx="336.9" cy="487.0" r="1.9"/><circle cx="338.9" cy="495.4" r="1.9"/><circle cx="340.8" cy="502.0" r="1.9"/><circle cx="342.7" cy="506.4" r="1.9"/><circle cx="344.6" cy="508.6" r="1.9"/><circle cx="346.6" cy="508.2" r="1.9"/><circle cx="348.5" cy="505.0" r="1.9"/><circle cx="350.4" cy="498.7" r="1.9"/><circle cx="352.3" cy="489.6" r="1.9"/><circle cx="354.3" cy="479.7" r="1.9"/><circle cx="356.2" cy="471.2" r="1.9"/><circle cx="358.1" cy="463.8" r="1.9"/><circle cx="360.0" cy="457.0" r="1.9"/><circle cx="362.0" cy="450.7" r="1.9"/><circle cx="363.9" cy="445.0" r="1.9"/><circle cx="365.8" cy="440.7" r="1.9"/><circle cx="367.8" cy="438.0" r="1.9"/><circle cx="369.7" cy="436.7" r="1.9"/><circle cx="371.6" cy="436.7" r="1.9"/><circle cx="373.5" cy="437.8" r="1.9"/><circle cx="375.5" cy="440.0" r="1.9"/><circle cx="377.4" cy="443.1" r="1.9"/><circle cx="379.3" cy="447.1" r="1.9"/><circle cx="381.2" cy="451.7" r="1.9"/><circle cx="383.2" cy="456.7" r="1.9"/><circle cx="385.1" cy="461.7" r="1.9"/><circle cx="387.0" cy="466.3" r="1.9"/><circle cx="388.9" cy="470.2" r="1.9"/><circle cx="390.9" cy="472.9" r="1.9"/><circle cx="392.8" cy="474.4" r="1.9"/><circle cx="394.7" cy="475.1" r="1.9"/><circle cx="396.6" cy="475.0" r="1.9"/><circle cx="398.6" cy="474.4" r="1.9"/><circle cx="400.5" cy="473.4" r="1.9"/><circle cx="402.4" cy="472.1" r="1.9"/><circle cx="404.3" cy="470.7" r="1.9"/><circle cx="406.3" cy="469.3" r="1.9"/><circle cx="408.2" cy="467.8" r="1.9"/><circle cx="410.1" cy="466.4" r="1.9"/><circle cx="412.1" cy="465.2" r="1.9"/><circle cx="414.0" cy="464.2" r="1.9"/><circle cx="415.9" cy="463.4" r="1.9"/><circle cx="417.8" cy="462.7" r="1.9"/><circle cx="419.8" cy="461.9" r="1.9"/><circle cx="421.7" cy="460.9" r="1.9"/><circle cx="423.6" cy="459.7" r="1.9"/><circle cx="425.5" cy="457.9" r="1.9"/><circle cx="427.5" cy="455.7" r="1.9"/><circle cx="429.4" cy="453.2" r="1.9"/><circle cx="431.3" cy="450.6" r="1.9"/><circle cx="433.2" cy="448.2" r="1.9"/><circle cx="435.2" cy="446.0" r="1.9"/><circle cx="437.1" cy="444.4" r="1.9"/><circle cx="439.0" cy="443.6" r="1.9"/><circle cx="440.9" cy="443.7" r="1.9"/><circle cx="442.9" cy="445.0" r="1.9"/><circle cx="444.8" cy="447.7" r="1.9"/><circle cx="446.7" cy="451.6" r="1.9"/><circle cx="448.6" cy="456.4" r="1.9"/><circle cx="450.6" cy="461.8" r="1.9"/><circle cx="452.5" cy="467.5" r="1.9"/><circle cx="454.4" cy="473.2" r="1.9"/><circle cx="456.3" cy="478.5" r="1.9"/><circle cx="458.3" cy="483.2" r="1.9"/><circle cx="460.2" cy="487.1" r="1.9"/><circle cx="462.1" cy="489.9" r="1.9"/><circle cx="464.1" cy="491.3" r="1.9"/><circle cx="466.0" cy="491.2" r="1.9"/><circle cx="467.9" cy="489.6" r="1.9"/><circle cx="469.8" cy="486.6" r="1.9"/><circle cx="471.8" cy="482.3" r="1.9"/><circle cx="473.7" cy="476.9" r="1.9"/><circle cx="475.6" cy="470.4" r="1.9"/><circle cx="477.5" cy="463.4" r="1.9"/><circle cx="479.5" cy="456.6" r="1.9"/><circle cx="481.4" cy="450.4" r="1.9"/><circle cx="483.3" cy="445.6" r="1.9"/><circle cx="485.2" cy="442.4" r="1.9"/><circle cx="487.2" cy="440.6" r="1.9"/><circle cx="489.1" cy="440.2" r="1.9"/><circle cx="491.0" cy="441.2" r="1.9"/><circle cx="492.9" cy="443.4" r="1.9"/><circle cx="494.9" cy="446.6" r="1.9"/><circle cx="496.8" cy="450.3" r="1.9"/><circle cx="498.7" cy="454.2" r="1.9"/><circle cx="500.6" cy="457.7" r="1.9"/><circle cx="502.6" cy="460.7" r="1.9"/><circle cx="504.5" cy="463.0" r="1.9"/><circle cx="506.4" cy="464.6" r="1.9"/><circle cx="508.4" cy="465.5" r="1.9"/><circle cx="510.3" cy="465.6" r="1.9"/><circle cx="512.2" cy="465.3" r="1.9"/><circle cx="514.1" cy="464.8" r="1.9"/><circle cx="516.1" cy="464.5" r="1.9"/><circle cx="518.0" cy="464.5" r="1.9"/><circle cx="519.9" cy="464.9" r="1.9"/><circle cx="521.8" cy="465.4" r="1.9"/><circle cx="523.8" cy="465.7" r="1.9"/><circle cx="525.7" cy="465.8" r="1.9"/><circle cx="527.6" cy="465.7" r="1.9"/><circle cx="529.5" cy="465.4" r="1.9"/><circle cx="531.5" cy="464.9" r="1.9"/><circle cx="533.4" cy="464.3" r="1.9"/><circle cx="535.3" cy="463.7" r="1.9"/><circle cx="537.2" cy="463.0" r="1.9"/><circle cx="539.2" cy="462.4" r="1.9"/><circle cx="541.1" cy="462.1" r="1.9"/><circle cx="543.0" cy="462.2" r="1.9"/><circle cx="544.9" cy="462.9" r="1.9"/><circle cx="546.9" cy="464.5" r="1.9"/><circle cx="548.8" cy="466.8" r="1.9"/><circle cx="550.7" cy="469.2" r="1.9"/><circle cx="552.6" cy="471.3" r="1.9"/><circle cx="554.6" cy="473.1" r="1.9"/><circle cx="556.5" cy="474.2" r="1.9"/><circle cx="558.4" cy="474.5" r="1.9"/><circle cx="560.4" cy="473.9" r="1.9"/><circle cx="562.3" cy="472.5" r="1.9"/><circle cx="564.2" cy="470.1" r="1.9"/><circle cx="566.1" cy="467.2" r="1.9"/><circle cx="568.1" cy="463.8" r="1.9"/><circle cx="570.0" cy="460.2" r="1.9"/><circle cx="571.9" cy="456.5" r="1.9"/><circle cx="573.8" cy="453.0" r="1.9"/><circle cx="575.8" cy="449.9" r="1.9"/><circle cx="577.7" cy="447.2" r="1.9"/><circle cx="579.6" cy="445.0" r="1.9"/><circle cx="581.5" cy="443.4" r="1.9"/><circle cx="583.5" cy="442.4" r="1.9"/><circle cx="585.4" cy="442.1" r="1.9"/><circle cx="587.3" cy="442.6" r="1.9"/><circle cx="589.2" cy="443.7" r="1.9"/><circle cx="591.2" cy="445.5" r="1.9"/><circle cx="593.1" cy="447.9" r="1.9"/><circle cx="595.0" cy="450.8" r="1.9"/><circle cx="596.9" cy="454.2" r="1.9"/><circle cx="598.9" cy="457.9" r="1.9"/><circle cx="600.8" cy="461.7" r="1.9"/><circle cx="602.7" cy="465.5" r="1.9"/><circle cx="604.7" cy="469.0" r="1.9"/><circle cx="606.6" cy="471.9" r="1.9"/><circle cx="608.5" cy="474.0" r="1.9"/><circle cx="610.4" cy="475.0" r="1.9"/><circle cx="612.4" cy="475.1" r="1.9"/><circle cx="614.3" cy="474.3" r="1.9"/><circle cx="616.2" cy="473.0" r="1.9"/><circle cx="618.1" cy="471.4" r="1.9"/><circle cx="620.1" cy="469.5" r="1.9"/><circle cx="622.0" cy="467.8" r="1.9"/><circle cx="623.9" cy="466.3" r="1.9"/><circle cx="625.8" cy="465.1" r="1.9"/><circle cx="627.8" cy="464.4" r="1.9"/><circle cx="629.7" cy="464.3" r="1.9"/><circle cx="631.6" cy="465.0" r="1.9"/><circle cx="633.5" cy="466.4" r="1.9"/><circle cx="635.5" cy="468.0" r="1.9"/><circle cx="637.4" cy="469.6" r="1.9"/><circle cx="639.3" cy="470.9" r="1.9"/><circle cx="641.2" cy="471.4" r="1.9"/><circle cx="643.2" cy="470.8" r="1.9"/><circle cx="645.1" cy="469.3" r="1.9"/><circle cx="647.0" cy="467.1" r="1.9"/><circle cx="648.9" cy="464.4" r="1.9"/><circle cx="650.9" cy="461.6" r="1.9"/><circle cx="652.8" cy="459.0" r="1.9"/><circle cx="654.7" cy="456.7" r="1.9"/><circle cx="656.7" cy="454.8" r="1.9"/><circle cx="658.6" cy="453.5" r="1.9"/><circle cx="660.5" cy="452.6" r="1.9"/><circle cx="662.4" cy="452.1" r="1.9"/><circle cx="664.4" cy="452.2" r="1.9"/></g>
<polyline fill="none" stroke="#35942d" stroke-width="1.7" stroke-linejoin="round" points="28.2,644.6 39.3,624.1 49.4,586.8 56.7,638.2 62.8,630.5 68.5,599.2 74.5,601.6 79.9,585.8 82.9,591.5 86.6,574.4 99.7,620.1 119.2,645.6 147.8,656.3 162.5,599.9 179.7,545.2 204.8,620.8 216.3,604.7 224.0,584.8 233.6,582.0 247.0,573.3 260.6,574.3 272.9,594.3 283.4,641.6 293.2,652.4 317.7,544.2 326.8,599.5 338.4,637.7 347.9,638.4 357.7,581.3 371.0,558.5 390.6,612.2 399.7,596.4 414.4,593.9 425.5,612.0 441.3,578.8 452.5,607.4 464.5,654.2 471.8,649.2 479.6,634.5 487.3,565.3 505.1,648.0 517.5,621.0 529.1,575.7 540.7,603.9 558.5,621.7 572.0,591.9 585.6,574.2 599.9,629.5 605.3,585.8 613.0,619.8 631.6,612.5 651.0,607.4" />
<g fill="#2b8a27"><circle cx="28.2" cy="644.6" r="1.85"/><circle cx="39.3" cy="624.1" r="1.85"/><circle cx="49.4" cy="586.8" r="1.85"/><circle cx="56.7" cy="638.2" r="1.85"/><circle cx="62.8" cy="630.5" r="1.85"/><circle cx="68.5" cy="599.2" r="1.85"/><circle cx="74.5" cy="601.6" r="1.85"/><circle cx="79.9" cy="585.8" r="1.85"/><circle cx="82.9" cy="591.5" r="1.85"/><circle cx="86.6" cy="574.4" r="1.85"/><circle cx="99.7" cy="620.1" r="1.85"/><circle cx="119.2" cy="645.6" r="1.85"/><circle cx="147.8" cy="656.3" r="1.85"/><circle cx="162.5" cy="599.9" r="1.85"/><circle cx="179.7" cy="545.2" r="1.85"/><circle cx="204.8" cy="620.8" r="1.85"/><circle cx="216.3" cy="604.7" r="1.85"/><circle cx="224.0" cy="584.8" r="1.85"/><circle cx="233.6" cy="582.0" r="1.85"/><circle cx="247.0" cy="573.3" r="1.85"/><circle cx="260.6" cy="574.3" r="1.85"/><circle cx="272.9" cy="594.3" r="1.85"/><circle cx="283.4" cy="641.6" r="1.85"/><circle cx="293.2" cy="652.4" r="1.85"/><circle cx="317.7" cy="544.2" r="1.85"/><circle cx="326.8" cy="599.5" r="1.85"/><circle cx="338.4" cy="637.7" r="1.85"/><circle cx="347.9" cy="638.4" r="1.85"/><circle cx="357.7" cy="581.3" r="1.85"/><circle cx="371.0" cy="558.5" r="1.85"/><circle cx="390.6" cy="612.2" r="1.85"/><circle cx="399.7" cy="596.4" r="1.85"/><circle cx="414.4" cy="593.9" r="1.85"/><circle cx="425.5" cy="612.0" r="1.85"/><circle cx="441.3" cy="578.8" r="1.85"/><circle cx="452.5" cy="607.4" r="1.85"/><circle cx="464.5" cy="654.2" r="1.85"/><circle cx="471.8" cy="649.2" r="1.85"/><circle cx="479.6" cy="634.5" r="1.85"/><circle cx="487.3" cy="565.3" r="1.85"/><circle cx="505.1" cy="648.0" r="1.85"/><circle cx="517.5" cy="621.0" r="1.85"/><circle cx="529.1" cy="575.7" r="1.85"/><circle cx="540.7" cy="603.9" r="1.85"/><circle cx="558.5" cy="621.7" r="1.85"/><circle cx="572.0" cy="591.9" r="1.85"/><circle cx="585.6" cy="574.2" r="1.85"/><circle cx="599.9" cy="629.5" r="1.85"/><circle cx="605.3" cy="585.8" r="1.85"/><circle cx="613.0" cy="619.8" r="1.85"/><circle cx="631.6" cy="612.5" r="1.85"/><circle cx="651.0" cy="607.4" r="1.85"/></g>
<rect x="22.4" y="396.2" width="642.2" height="280.0" fill="none" stroke="#000" stroke-width="1.4"/>
<line x1="22.4" y1="396.2" x2="22.4" y2="392.0" stroke="#000" stroke-width="1.2" />
<text x="22.4" y="388.3" font-size="15.5" text-anchor="middle" fill="#000" >0</text>
<line x1="86.6" y1="396.2" x2="86.6" y2="392.0" stroke="#000" stroke-width="1.2" />
<text x="86.6" y="388.3" font-size="15.5" text-anchor="middle" fill="#000" >1</text>
<line x1="150.8" y1="396.2" x2="150.8" y2="392.0" stroke="#000" stroke-width="1.2" />
<text x="150.8" y="388.3" font-size="15.5" text-anchor="middle" fill="#000" >2</text>
<line x1="215.0" y1="396.2" x2="215.0" y2="392.0" stroke="#000" stroke-width="1.2" />
<text x="215.0" y="388.3" font-size="15.5" text-anchor="middle" fill="#000" >3</text>
<line x1="279.2" y1="396.2" x2="279.2" y2="392.0" stroke="#000" stroke-width="1.2" />
<text x="279.2" y="388.3" font-size="15.5" text-anchor="middle" fill="#000" >4</text>
<line x1="343.4" y1="396.2" x2="343.4" y2="392.0" stroke="#000" stroke-width="1.2" />
<text x="343.4" y="388.3" font-size="15.5" text-anchor="middle" fill="#000" >5</text>
<line x1="407.6" y1="396.2" x2="407.6" y2="392.0" stroke="#000" stroke-width="1.2" />
<text x="407.6" y="388.3" font-size="15.5" text-anchor="middle" fill="#000" >6</text>
<line x1="471.8" y1="396.2" x2="471.8" y2="392.0" stroke="#000" stroke-width="1.2" />
<text x="471.8" y="388.3" font-size="15.5" text-anchor="middle" fill="#000" >7</text>
<line x1="536.0" y1="396.2" x2="536.0" y2="392.0" stroke="#000" stroke-width="1.2" />
<text x="536.0" y="388.3" font-size="15.5" text-anchor="middle" fill="#000" >8</text>
<line x1="600.2" y1="396.2" x2="600.2" y2="392.0" stroke="#000" stroke-width="1.2" />
<text x="600.2" y="388.3" font-size="15.5" text-anchor="middle" fill="#000" >9</text>
<line x1="664.4" y1="396.2" x2="664.4" y2="392.0" stroke="#000" stroke-width="1.2" />
<text x="665.0" y="388.3" font-size="15.5" text-anchor="middle" fill="#000" >10</text>
<line x1="22.4" y1="396.2" x2="18.4" y2="396.2" stroke="#000" stroke-width="1.3" />
<text x="16.8" y="401.3" font-size="15.5" text-anchor="end" fill="#000" >5</text>
<line x1="664.6" y1="396.2" x2="669.0" y2="396.2" stroke="#000" stroke-width="1.3" />
<text x="670.4" y="401.3" font-size="15.5" text-anchor="start" fill="#000" >5</text>
<line x1="22.4" y1="462.4" x2="18.4" y2="462.4" stroke="#000" stroke-width="1.3" />
<text x="16.8" y="467.5" font-size="15.5" text-anchor="end" fill="#000" >0</text>
<line x1="664.6" y1="462.4" x2="669.0" y2="462.4" stroke="#000" stroke-width="1.3" />
<text x="670.4" y="467.5" font-size="15.5" text-anchor="start" fill="#000" >0</text>
<line x1="22.4" y1="528.5" x2="18.4" y2="528.5" stroke="#000" stroke-width="1.3" />
<text x="16.8" y="533.6" font-size="15.5" text-anchor="end" fill="#000" >-5</text>
<line x1="664.6" y1="528.5" x2="669.0" y2="528.5" stroke="#000" stroke-width="1.3" />
<text x="670.4" y="533.6" font-size="15.5" text-anchor="start" fill="#000" >-5</text>
<line x1="22.4" y1="554.4" x2="17.4" y2="554.4" stroke="#000" stroke-width="1.3" />
<text x="13.4" y="559.5" font-size="15.5" text-anchor="end" fill="#000" >1</text>
<line x1="664.6" y1="554.4" x2="670.6" y2="554.4" stroke="#000" stroke-width="1.3" />
<text x="672.6" y="559.5" font-size="15.5" text-anchor="start" fill="#000" >1</text>
<line x1="22.4" y1="602.7" x2="17.4" y2="602.7" stroke="#000" stroke-width="1.3" />
<text x="13.4" y="607.8" font-size="15.5" text-anchor="end" fill="#000" >0</text>
<line x1="664.6" y1="602.7" x2="670.6" y2="602.7" stroke="#000" stroke-width="1.3" />
<text x="672.6" y="607.8" font-size="15.5" text-anchor="start" fill="#000" >0</text>
<line x1="22.4" y1="651.5" x2="17.4" y2="651.5" stroke="#000" stroke-width="1.3" />
<text x="13.4" y="656.6" font-size="15.5" text-anchor="end" fill="#000" >-1</text>
<line x1="664.6" y1="651.5" x2="670.6" y2="651.5" stroke="#000" stroke-width="1.3" />
<text x="672.6" y="656.6" font-size="15.5" text-anchor="start" fill="#000" >-1</text>
<line x1="39.3" y1="676.2" x2="39.3" y2="680.2" stroke="#000" stroke-width="1.2" />
<text x="39.3" y="696.3" font-size="15.5" text-anchor="middle" fill="#000" >2010</text>
<line x1="74.5" y1="676.2" x2="74.5" y2="680.2" stroke="#000" stroke-width="1.2" />
<text x="74.5" y="696.3" font-size="15.5" text-anchor="middle" fill="#000" >2005</text>
<line x1="119.2" y1="676.2" x2="119.2" y2="680.2" stroke="#000" stroke-width="1.2" />
<text x="119.2" y="696.3" font-size="15.5" text-anchor="middle" fill="#000" >2000</text>
<line x1="216.2" y1="676.2" x2="216.2" y2="680.2" stroke="#000" stroke-width="1.2" />
<text x="216.2" y="696.3" font-size="15.5" text-anchor="middle" fill="#000" >1995</text>
<line x1="272.9" y1="676.2" x2="272.9" y2="680.2" stroke="#000" stroke-width="1.2" />
<text x="272.9" y="696.3" font-size="15.5" text-anchor="middle" fill="#000" >1990</text>
<line x1="338.4" y1="676.2" x2="338.4" y2="680.2" stroke="#000" stroke-width="1.2" />
<text x="338.4" y="696.3" font-size="15.5" text-anchor="middle" fill="#000" >1985</text>
<line x1="399.7" y1="676.2" x2="399.7" y2="680.2" stroke="#000" stroke-width="1.2" />
<text x="399.7" y="696.3" font-size="15.5" text-anchor="middle" fill="#000" >1980</text>
<line x1="464.5" y1="676.2" x2="464.5" y2="680.2" stroke="#000" stroke-width="1.2" />
<text x="464.5" y="696.3" font-size="15.5" text-anchor="middle" fill="#000" >1975</text>
<line x1="517.5" y1="676.2" x2="517.5" y2="680.2" stroke="#000" stroke-width="1.2" />
<text x="517.5" y="696.3" font-size="15.5" text-anchor="middle" fill="#000" >1970</text>
<line x1="585.6" y1="676.2" x2="585.6" y2="680.2" stroke="#000" stroke-width="1.2" />
<text x="585.6" y="696.3" font-size="15.5" text-anchor="middle" fill="#000" >1965</text>
<line x1="651.0" y1="676.2" x2="651.0" y2="680.2" stroke="#000" stroke-width="1.2" />
<text x="651.0" y="696.3" font-size="15.5" text-anchor="middle" fill="#000" >1960</text>
<text x="347.0" y="370.9" font-size="14" text-anchor="middle" fill="#000" >Depth (m)</text>
<text x="347.0" y="718.2" font-size="14.6" text-anchor="middle" fill="#000" >Year (CE)</text>
<text x="3.7" y="373.8" font-size="18" text-anchor="start" fill="#000" >(c)</text>
<line x1="22.8" y1="407.6" x2="55.2" y2="407.6" stroke="#1410d8" stroke-width="1.3" />
<g fill="#1410d8"><circle cx="38.9" cy="407.6" r="1.5"/></g>
<text x="63.0" y="413.7" font-size="16.4" text-anchor="start" fill="#000" >ENSO mode (IMF2)</text>
<line x1="22.8" y1="665.1" x2="57.1" y2="665.1" stroke="#35942d" stroke-width="1.5" />
<g fill="#2f8f2a"><circle cx="39.6" cy="665.1" r="1.7"/></g>
<text transform="translate(66.0,670.7) scale(0.970,1)" font-size="17.6" text-anchor="start" fill="#000" >ENSO Index</text>
<text x="34.2" y="435.3" font-size="14" text-anchor="start" fill="#000" >0.42 m</text>
<text x="79.7" y="448.9" font-size="14" text-anchor="start" fill="#000" >1 m</text>
<text x="132.0" y="506.8" font-size="14" text-anchor="start" fill="#000" >1.95 m</text>
<text x="163.2" y="431.7" font-size="14" text-anchor="start" fill="#000" >2.45 m</text>
<text x="188.9" y="500.0" font-size="14" text-anchor="start" fill="#000" >2.84 m</text>
<text x="237.6" y="443.4" font-size="14" text-anchor="start" fill="#000" >3.71 m</text>
<text x="294.2" y="409.2" font-size="14" text-anchor="start" fill="#000" >4.6 m</text>
<text x="273.5" y="512.3" font-size="14" text-anchor="start" fill="#000" >4.22 m</text>
<text x="325.4" y="523.3" font-size="14" text-anchor="start" fill="#000" >5.07 m</text>
<text x="345.2" y="432.4" font-size="14" text-anchor="start" fill="#000" >5.43 m</text>
<text x="377.9" y="491.6" font-size="14" text-anchor="start" fill="#000" >5.73 m</text>
<text x="418.2" y="440.8" font-size="14" text-anchor="start" fill="#000" >6.52 m</text>
<text x="445.3" y="413.0" font-size="14" text-anchor="start" fill="#000" font-weight="bold" >6.88 m</text>
<text x="490.8" y="407.7" font-size="14" text-anchor="start" fill="#000" font-weight="bold" >7.51 m</text>
<text x="467.2" y="438.4" font-size="14" text-anchor="start" fill="#000" font-weight="bold" >7.24 m</text>
<text x="537.2" y="439.8" font-size="14" text-anchor="start" fill="#000" font-weight="bold" >8.35 m</text>
<text x="580.0" y="438.4" font-size="14" text-anchor="start" fill="#000" >8.77 m</text>
<text x="602.8" y="464.0" font-size="14" text-anchor="start" fill="#000" >9.2 m</text>
<text x="588.4" y="504.6" font-size="14" text-anchor="start" fill="#2e8f2a" font-weight="bold" >1967 CE</text>
<text x="417.2" y="537.1" font-size="14" text-anchor="start" fill="#2e8f2a" font-weight="bold" >1975 CE</text>
<text x="473.4" y="512.1" font-size="14" text-anchor="start" fill="#2e8f2a" font-weight="bold" >1972 CE</text>
<text x="526.4" y="527.2" font-size="14" text-anchor="start" fill="#2e8f2a" font-weight="bold" >1971 CE</text>
<line x1="464.5" y1="418.0" x2="464.5" y2="479.2" stroke="#000" stroke-width="1.3" />
<polygon fill="#000" points="464.5,487.2 461.8,478.2 467.2,478.2"/>
<line x1="508.3" y1="413.7" x2="508.3" y2="454.7" stroke="#000" stroke-width="1.3" />
<polygon fill="#000" points="508.3,462.7 505.6,453.7 511.0,453.7"/>
<line x1="557.2" y1="441.7" x2="557.2" y2="462.0" stroke="#000" stroke-width="1.3" />
<polygon fill="#000" points="557.2,470.0 554.5,461.0 559.9,461.0"/>
<line x1="493.4" y1="496.9" x2="489.2" y2="451.4" stroke="#000" stroke-width="1.3" />
<polygon fill="#000" points="488.5,443.4 492.0,452.1 486.6,452.6"/>
<line x1="545.7" y1="512.1" x2="516.1" y2="477.6" stroke="#000" stroke-width="1.3" />
<polygon fill="#000" points="510.9,471.5 518.8,476.6 514.7,480.1"/>
<line x1="449.0" y1="518.7" x2="457.8" y2="503.6" stroke="#000" stroke-width="1.3" />
<polygon fill="#000" points="461.8,496.7 459.6,505.8 454.9,503.1"/>
<line x1="586.5" y1="498.0" x2="565.3" y2="482.4" stroke="#000" stroke-width="1.3" />
<polygon fill="#000" points="558.9,477.7 567.7,480.9 564.6,485.2"/>
</svg>
</body></html>
